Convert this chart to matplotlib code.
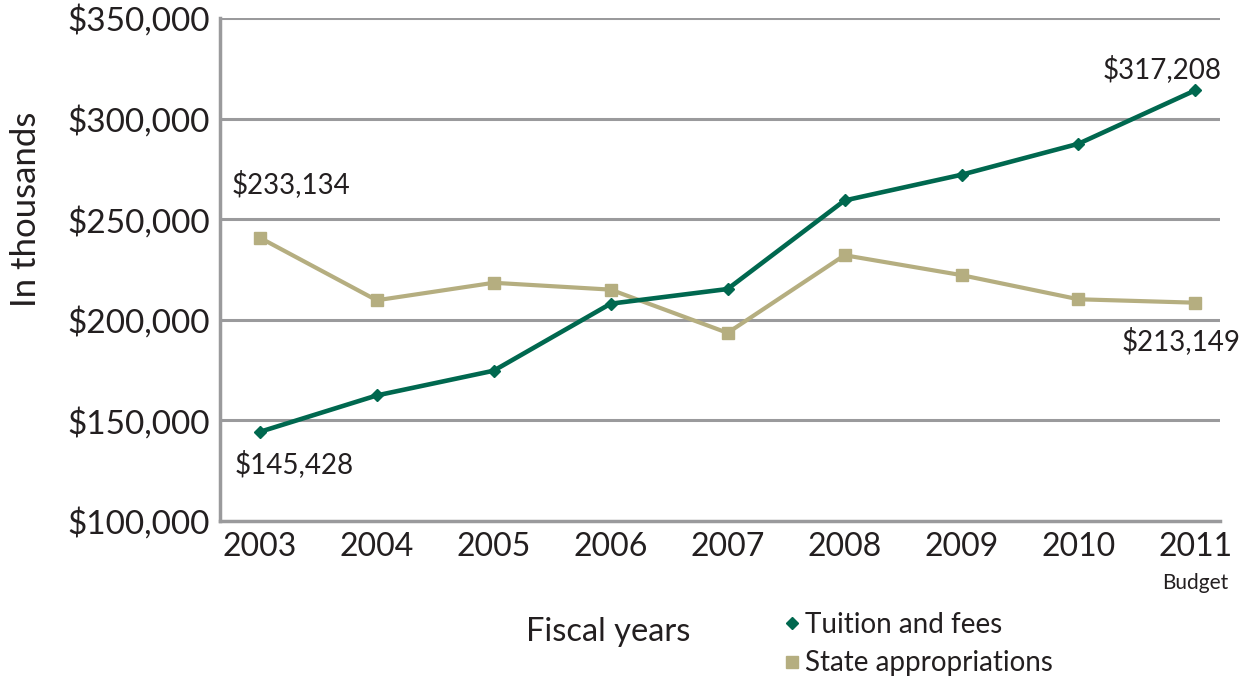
import matplotlib
matplotlib.use("Agg")
import matplotlib.pyplot as plt
from matplotlib.lines import Line2D

years = ["2003", "2004", "2005", "2006", "2007", "2008", "2009", "2010", "2011"]
tuition = [144.3, 162.4, 174.7, 208.0, 215.3, 259.3, 272.1, 287.5, 314.1]   # in thousands
state = [240.8, 209.7, 218.4, 215.0, 193.5, 232.1, 222.2, 210.2, 208.5]
yticks = [100, 150, 200, 250, 300, 350]
ytick_labels = ["$100,000", "$150,000", "$200,000", "$250,000", "$300,000", "$350,000"]
labels = {"t_first": "$145,428", "t_last": "$317,208", "s_first": "$233,134", "s_last": "$213,149"}

GREEN = "#00684f"
TAN = "#b5ae80"
GRID = "#9a9a9c"
TXT = "#231f20"

plt.rcParams['font.family'] = ['Lato', 'DejaVu Sans']

fig = plt.figure(figsize=(12.53, 6.81), dpi=100)
ax = fig.add_axes([220/1253, 1-521/681, 1000/1253, 503/681])

x = list(range(len(years)))
ax.plot(x, state, color=TAN, lw=3, marker='s', ms=9, zorder=3)
ax.plot(x, tuition, color=GREEN, lw=3.3, marker='D', ms=6.5, zorder=4)

ax.set_ylim(100, 350)
ax.set_xlim(-0.34, 8.21)
ax.set_yticks(yticks)
ax.set_yticklabels(ytick_labels, fontsize=24, color=TXT)
ax.set_xticks(x)
ax.set_xticklabels(years, fontsize=23, color=TXT)
ax.tick_params(length=0, pad=7)
ax.tick_params(axis='x', pad=8)
for y in yticks[1:]:
    ax.axhline(y, color=GRID, lw=2.2, zorder=1)
for s in ['top', 'right']:
    ax.spines[s].set_visible(False)
for s in ['left', 'bottom']:
    ax.spines[s].set_color(GRID)
    ax.spines[s].set_linewidth(2.5)

ax.set_ylabel("In thousands", fontsize=25, color=TXT)
ax.yaxis.set_label_coords(-(220 - 26) / 1000, (521 - 209) / 503)
ax.yaxis.label.set_va('center')

ax.annotate("Budget", xy=(x[-1], 100), xycoords='data', xytext=(0, -62),
            textcoords='offset pixels', ha='center', va='center', fontsize=15, color=TXT)

ax.annotate(labels["t_first"], xy=(x[0], tuition[0]), xytext=(-25, -32),
            textcoords='offset pixels', ha='left', va='center', fontsize=20, color=TXT)
ax.annotate(labels["s_first"], xy=(x[0], state[0]), xytext=(-28, 54),
            textcoords='offset pixels', ha='left', va='center', fontsize=20, color=TXT)
ax.annotate(labels["t_last"], xy=(x[-1], tuition[-1]), xytext=(-33, 21),
            textcoords='offset pixels', ha='center', va='center', fontsize=20, color=TXT)
ax.annotate(labels["s_last"], xy=(x[-1], state[-1]), xytext=(45, -38),
            textcoords='offset pixels', ha='right', va='center', fontsize=20, color=TXT)

fig.text(608/1253, 1-632/681, "Fiscal years", ha='center', va='center', fontsize=23.5, color=TXT)

handles = [Line2D([], [], color=GREEN, marker='D', ms=6.5, ls='None'),
           Line2D([], [], color=TAN, marker='s', ms=9, ls='None')]
fig.legend(handles, ["Tuition and fees", "State appropriations"], loc='upper left',
           bbox_to_anchor=(770/1253, 1-598/681), frameon=False, fontsize=20,
           handlelength=0.6, handletextpad=0.15, labelspacing=0.45, borderpad=0,
           labelcolor=TXT)

fig.savefig("out.png", dpi=100)
